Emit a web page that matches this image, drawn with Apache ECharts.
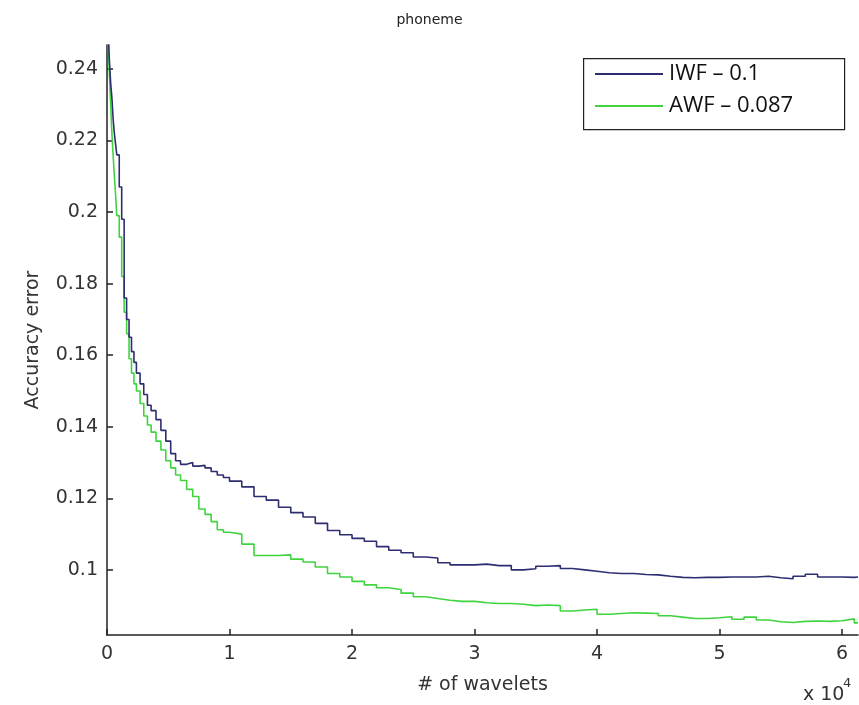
<!DOCTYPE html>
<html>
<head>
<meta charset="utf-8">
<script src="https://cdn.jsdelivr.net/npm/echarts@6/dist/echarts.min.js"></script>
<style>
html,body{margin:0;padding:0;background:#fff;}
#chart{width:859px;height:705px;}
</style>
</head>
<body>
<div id="chart"></div>
<script>
const chartTitle = 'phoneme';
const seriesNames = ['IWF \u2013 0.1', 'AWF \u2013 0.087'];
const yTickValues = [0.1, 0.12, 0.14, 0.16, 0.18, 0.2, 0.22, 0.24];

const waveletCounts = [
  0, 100, 200, 300, 400, 500, 600, 700, 800, 1000, 1200, 1400, 1600, 1800, 2000, 2200, 2400, 2700,
  3000, 3300, 3600, 4000, 4400, 4800, 5200, 5600, 6000, 6500, 7000, 7500, 8000, 8500, 9000, 9500,
  10000, 11000, 12000, 13000, 14000, 15000, 16000, 17000, 18000, 19000, 20000, 21000, 22000, 23000,
  24000, 25000, 26000, 27000, 28000, 29000, 30000, 31000, 32000, 33000, 34000, 35000, 36000, 37000,
  38000, 39000, 40000, 41000, 42000, 43000, 44000, 45000, 46000, 47000, 48000, 49000, 50000, 51000,
  52000, 53000, 54000, 55000, 56000, 57000, 58000, 59000, 60000, 61000, 61300
];

const iwfError = [
  0.262, 0.250, 0.242, 0.236, 0.232, 0.226, 0.222, 0.219, 0.216, 0.207, 0.198, 0.176, 0.170, 0.165, 0.161, 0.158, 0.155, 0.152,
  0.149, 0.146, 0.1445, 0.142, 0.139, 0.136, 0.1325, 0.1305, 0.1295, 0.1300, 0.1290, 0.1292, 0.1285, 0.1275, 0.1265, 0.1258,
  0.1248, 0.1232, 0.1205, 0.1195, 0.1175, 0.1160, 0.1148, 0.1130, 0.1110, 0.1098, 0.1088, 0.1080, 0.1065, 0.1055,
  0.1048, 0.1036, 0.1033, 0.1020, 0.1014, 0.1014, 0.1016, 0.1012, 0.1012, 0.1000, 0.1003, 0.1010, 0.1012, 0.1004,
  0.1000, 0.0996, 0.0992, 0.0990, 0.0990, 0.0987, 0.0986, 0.0982, 0.0979, 0.0978, 0.0979, 0.0979, 0.0980, 0.0980,
  0.0980, 0.0982, 0.0978, 0.0975, 0.0982, 0.0988, 0.0980, 0.0980, 0.0979, 0.0980, 0.0980
];

const awfError = [
  0.262, 0.248, 0.238, 0.230, 0.222, 0.216, 0.210, 0.205, 0.199, 0.193, 0.182, 0.172, 0.166, 0.159, 0.155, 0.152, 0.150, 0.1465,
  0.143, 0.1405, 0.1385, 0.136, 0.1335, 0.1305, 0.1285, 0.1265, 0.1250, 0.1225, 0.1205, 0.1170, 0.1155, 0.1135, 0.1112, 0.1105,
  0.1100, 0.1072, 0.1040, 0.1040, 0.1042, 0.1030, 0.1022, 0.1008, 0.0990, 0.0980, 0.0968, 0.0958, 0.0950, 0.0945,
  0.0935, 0.0925, 0.0920, 0.0915, 0.0912, 0.0912, 0.0908, 0.0906, 0.0906, 0.0904, 0.0900, 0.0902, 0.0900, 0.0885,
  0.0888, 0.0890, 0.0876, 0.0878, 0.0880, 0.0879, 0.0878, 0.0872, 0.0868, 0.0864, 0.0864, 0.0866, 0.0869, 0.0862,
  0.0868, 0.0860, 0.0855, 0.0853, 0.0856, 0.0857, 0.0856, 0.0858, 0.0863, 0.0852, 0.0852
];

function pairs(xs, ys) { return xs.map((x, i) => [x, ys[i]]); }

const FONT = 'DejaVu Sans';
const chart = echarts.init(document.getElementById('chart'), null, {renderer: 'canvas'});
chart.setOption({
  animation: false,
  backgroundColor: '#ffffff',
  title: {
    text: chartTitle,
    left: 'center',
    top: 8,
    textStyle: {fontFamily: FONT, fontSize: 14, fontWeight: 'normal', color: '#222'}
  },
  grid: {left: 107, top: 45, right: 1, bottom: 70, containLabel: false},
  legend: {
    orient: 'vertical',
    left: 595,
    top: 63,
    icon: 'rect',
    itemWidth: 68,
    itemHeight: 2,
    itemGap: 10,
    padding: 0,
    data: seriesNames,
    textStyle: {fontFamily: 'Open Sans', fontSize: 22, color: '#111', padding: [0, 0, 0, 1]}
  },
  xAxis: {
    type: 'value',
    min: 0,
    max: 61300,
    interval: 10000,
    name: '# of wavelets',
    nameLocation: 'middle',
    nameGap: 41,
    nameTextStyle: {fontFamily: FONT, fontSize: 19, color: '#333'},
    axisLine: {show: true, onZero: false, lineStyle: {color: '#222', width: 1.5}},
    axisTick: {show: true, inside: true, length: 6, lineStyle: {color: '#222', width: 1.5}},
    axisLabel: {
      margin: 10,
      fontFamily: FONT, fontSize: 19, color: '#333',
      showMaxLabel: false,
      formatter: v => String(v / 10000)
    },
    splitLine: {show: false}
  },
  yAxis: {
    type: 'value',
    min: 0.0818,
    max: 0.2467,
    name: 'Accuracy error',
    nameLocation: 'middle',
    nameGap: 64,
    nameRotate: 90,
    nameTextStyle: {fontFamily: FONT, fontSize: 19, color: '#333'},
    axisLine: {show: true, onZero: false, lineStyle: {color: '#222', width: 1.5}},
    axisTick: {show: true, inside: true, length: 6, customValues: yTickValues, lineStyle: {color: '#222', width: 1.5}},
    axisLabel: {
      margin: 9,
      fontFamily: FONT, fontSize: 19, color: '#333',
      customValues: yTickValues,
      formatter: v => String(Math.round(v * 100) / 100)
    },
    splitLine: {show: false}
  },
  graphic: [
    {type: 'rect', left: 583, top: 58, shape: {width: 261, height: 71}, style: {fill: 'rgba(0,0,0,0)', stroke: '#222', lineWidth: 1.2}, z: 100},
    {type: 'text', left: 803, top: 686, style: {text: 'x 10', font: '19px "DejaVu Sans"', fill: '#333'}},
    {type: 'text', left: 843, top: 677, style: {text: '4', font: '13px "DejaVu Sans"', fill: '#333'}}
  ],
  series: [
    {
      name: seriesNames[0],
      type: 'line',
      step: 'end',
      symbol: 'none',
      showSymbol: false,
      clip: true,
      data: pairs(waveletCounts, iwfError),
      lineStyle: {color: '#2d2d72', width: 1.6},
      itemStyle: {color: '#2d2d72'},
      z: 3
    },
    {
      name: seriesNames[1],
      type: 'line',
      step: 'end',
      symbol: 'none',
      showSymbol: false,
      clip: true,
      data: pairs(waveletCounts, awfError),
      lineStyle: {color: '#3fd43f', width: 1.6},
      itemStyle: {color: '#3fd43f'},
      z: 2
    }
  ]
});
</script>
</body>
</html>
